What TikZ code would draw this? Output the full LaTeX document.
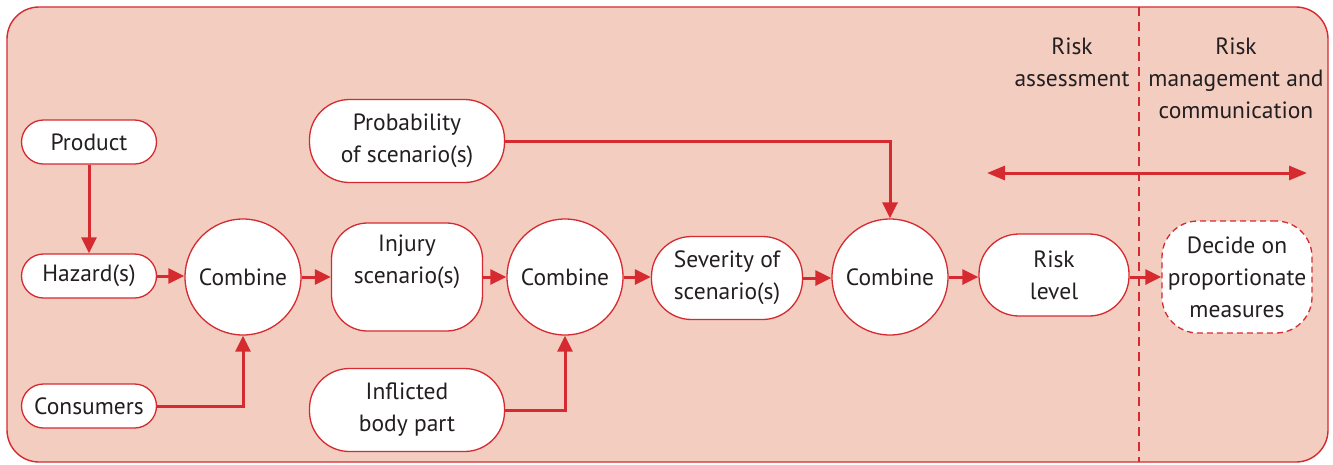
\documentclass[tikz,border=0pt]{standalone}
\usepackage{fontspec}
\setmainfont{PT Sans}
\usetikzlibrary{arrows.meta}
\definecolor{bgpink}{HTML}{F3CDBF}
\definecolor{rred}{HTML}{D62A31}
\definecolor{txt}{HTML}{231F20}
\begin{document}
\begin{tikzpicture}[x=1pt,y=-1pt,
  every node/.style={text=txt,font=\fontsize{23.5}{32}\selectfont,align=center,inner sep=0pt},
  box/.style={draw=rred,line width=1.3pt,fill=white,rounded corners=#1},
  box/.default=36pt,
  circ/.style={draw=rred,line width=1.3pt,fill=white,circle,minimum size=116pt},
  conn/.style={draw=rred,line width=3pt,-{Triangle[length=16pt,width=15pt]}}]
\useasboundingbox (0,0) rectangle (1333,464);
\draw[rred,line width=1.4pt,fill=bgpink,rounded corners=32pt] (7,7) rectangle (1328,462);
\draw[rred,line width=2.5pt,dash pattern=on 9pt off 6pt] (1139,7) -- (1139,462);
% top labels
\node (ra) at (1072,62) {Risk\\assessment};
\node (rm) at (1236,78) {Risk\\management and\\communication};
\draw[rred,line width=3pt,{Triangle[length=18pt,width=14pt]}-{Triangle[length=18pt,width=14pt]}] (987,173) coordinate (la) -- (1307,173) coordinate (lb);
% nodes
\node[box=22pt,minimum width=135pt,minimum height=44pt] (prod) at (89,142) {Product};
\node[box=22pt,minimum width=135pt,minimum height=44pt] (haz) at (89,276) {Hazard(s)};
\node[box=22pt,minimum width=135pt,minimum height=44pt] (cons) at (89,406) {Consumers};
\node[circ] (c1) at (243,277) {Combine};
\node[box=36pt,minimum width=151pt,minimum height=108pt] (inj) at (407,277) {};
\node (injt) at (407,262) {Injury\\scenario(s)};
\node[box=40pt,minimum width=195pt,minimum height=83pt] (body) at (407,410) {Inflicted\\body part};
\node[box=40pt,minimum width=195pt,minimum height=83pt] (prob) at (407,141) {Probability\\of scenario(s)};
\node[circ] (c2) at (565,277) {Combine};
\node[box=40pt,minimum width=151pt,minimum height=83pt] (sev) at (727,278) {Severity of\\scenario(s)};
\node[circ] (c3) at (890,277) {Combine};
\node[box=40pt,minimum width=150pt,minimum height=82pt] (risk) at (1054,275) {Risk\\level};
\node[box=36pt,dashed,dash pattern=on 6pt off 4pt,minimum width=150pt,minimum height=112pt] (dec) at (1237,277) {Decide on\\proportionate\\measures};
% connectors
\draw[conn] (prod) -- (haz);
\draw[conn] (haz.east) -- (haz.east -| c1.west);
\draw[conn] (cons.east) -| (c1.south);
\draw[conn] (c1.east) -- (inj.west);
\draw[conn] (inj.east) -- (c2.west);
\draw[conn] (body.east) -| (c2.south);
\draw[conn] (c2.east) -- (c2.east -| sev.west);
\draw[conn] (sev.east) -- (sev.east -| c3.west);
\draw[conn] (prob.east) -| (c3.north);
\draw[conn] (c3.east) -- (c3.east -| risk.west);
\draw[conn] ([yshift=-2pt]risk.east) -- ([yshift=-2pt]risk.east -| dec.west);
\end{tikzpicture}
\end{document}
